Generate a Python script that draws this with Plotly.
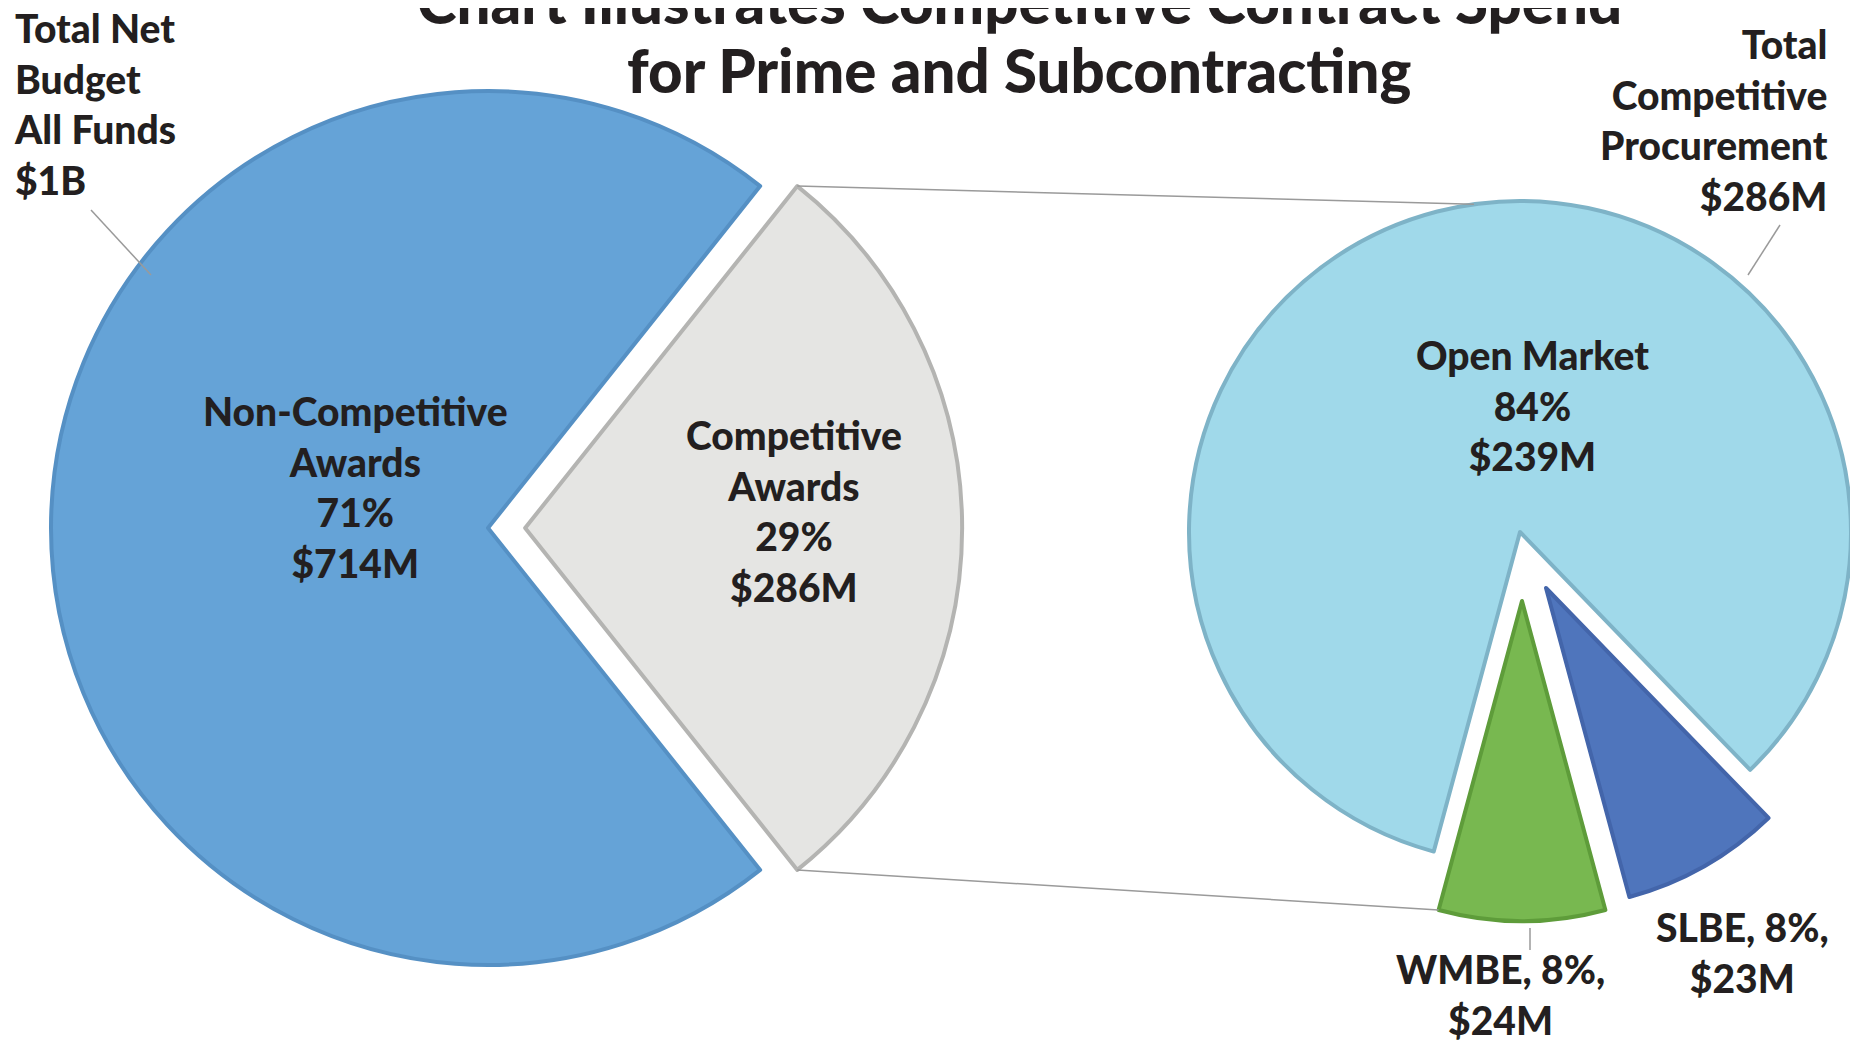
import math
import plotly.graph_objects as go

W, H = 1858, 1043

# whole budget, $M
budget_labels = ["Non-Competitive<br>Awards", "Competitive<br>Awards"]
budget_values = [714, 286]
budget_pct = [71, 29]
budget_colors = ["#65A3D7", "#E5E5E3"]
budget_edges = ["#5590C4", "#B4B4B2"]

# competitive procurement breakdown, $M
comp_labels = ["Open Market", "SLBE", "WMBE"]
comp_values = [239, 23, 24]
comp_pct = [84, 8, 8]
comp_colors = ["#A0D9EA", "#4F75BC", "#78B850"]
comp_edges = ["#7EB3C7", "#4365AA", "#5E9C3A"]

CLEAR = "rgba(0,0,0,0)"
FONT = "Lato"
INK = "#231F20"


def dom(cx, cy, half):
    # square pie domain in pixels -> paper fractions
    return dict(x=[(cx - half) / W, (cx + half) / W],
                y=[1 - (cy + half) / H, 1 - (cy - half) / H])


def px(x, y):
    return x / W, 1 - y / H


fig = go.Figure()

# left pie
L_CX, L_CY, L_R, L_PULL = 480, 520, 437, 0.085
comp_half = 0.5 * budget_values[1] / sum(budget_values) * 360
fig.add_trace(go.Pie(
    labels=budget_labels, values=budget_values, sort=False,
    direction="clockwise", rotation=90 + comp_half,
    pull=[0, L_PULL], textinfo="none", hoverinfo="label+value",
    marker=dict(colors=budget_colors, line=dict(color=budget_edges, width=4)),
    domain=dom(L_CX, L_CY, L_R * (1 + L_PULL)),
))

# right pie: one trace per slice so the small slices can be exploded
total_comp = sum(comp_values)
wmbe_half = 0.5 * comp_values[2] / total_comp * 360
right_rot = 180 + wmbe_half
centres = [(1512, 524, 331), (1538, 580, 320), (1514, 593, 320)]
for i, (cx, cy, r) in enumerate(centres):
    fig.add_trace(go.Pie(
        labels=comp_labels, values=comp_values, sort=False,
        direction="clockwise", rotation=right_rot,
        textinfo="none", hoverinfo="label+value",
        marker=dict(colors=[c if j == i else CLEAR for j, c in enumerate(comp_colors)],
                    line=dict(color=[c if j == i else CLEAR for j, c in enumerate(comp_edges)],
                              width=4)),
        domain=dom(cx, cy, r),
    ))

# connector lines between the competitive wedge and the breakdown pie
vx, vy = L_CX + L_PULL * L_R, L_CY
a_top = math.radians(90 - comp_half)
a_bot = math.radians(90 + comp_half)
top_start = (vx + L_R * math.sin(a_top), vy - L_R * math.cos(a_top))
bot_start = (vx + L_R * math.sin(a_bot), vy - L_R * math.cos(a_bot))
om_cx, om_cy, om_r = centres[0]
a_om = math.radians(-8)
top_end = (om_cx + om_r * math.sin(a_om), om_cy - om_r * math.cos(a_om))
w_cx, w_cy, w_r = centres[2]
a_w = math.radians(180 + wmbe_half)
bot_end = (w_cx + w_r * math.sin(a_w), w_cy - w_r * math.cos(a_w))

shapes = []
for p0, p1 in [(top_start, top_end), (bot_start, bot_end),
               ((83, 202), (143, 267)), ((1772, 217), (1740, 267)),
               ((1522, 920), (1522, 942))]:
    x0, y0 = px(*p0)
    x1, y1 = px(*p1)
    shapes.append(dict(type="line", xref="paper", yref="paper",
                       x0=x0, y0=y0, x1=x1, y1=y1,
                       line=dict(color="#9A9A9A", width=1.5)))


def note(text, x, y, size=39, xanchor="center", align="center"):
    ax, ay = px(x, y)
    fig.add_annotation(text=text, x=ax, y=ay, xref="paper", yref="paper",
                       xanchor=xanchor, yanchor="middle", align=align, showarrow=False,
                       font=dict(family=FONT, size=size, color=INK, weight=900))


# titles (first line runs off the top, as in the source)
note("Chart Illustrates Competitive Contract Spend", 1011, -7, size=60)
note("for Prime and Subcontracting", 1011, 62, size=60)

# totals
note(f"Total Net<br>Budget<br>All Funds<br>${sum(budget_values) // 1000}B",
     4, 96, xanchor="left", align="left")
note(f"Total<br>Competitive<br>Procurement<br>${total_comp}M",
     1822, 112, xanchor="right", align="right")

# slice labels
note(f"{budget_labels[0]}<br>{budget_pct[0]}%<br>${budget_values[0]}M", 347, 479)
note(f"{budget_labels[1]}<br>{budget_pct[1]}%<br>${budget_values[1]}M", 786, 503)
note(f"{comp_labels[0]}<br>{comp_pct[0]}%<br>${comp_values[0]}M", 1524, 397)
note(f"{comp_labels[2]}, {comp_pct[2]}%,<br>${comp_values[2]}M", 1492, 986)
note(f"{comp_labels[1]}, {comp_pct[1]}%,<br>${comp_values[1]}M", 1734, 944)

fig.update_layout(
    width=W, height=H,
    margin=dict(l=0, r=0, t=0, b=0),
    paper_bgcolor="white", plot_bgcolor="white",
    showlegend=False,
    shapes=shapes,
)

fig.write_html("out.html")
